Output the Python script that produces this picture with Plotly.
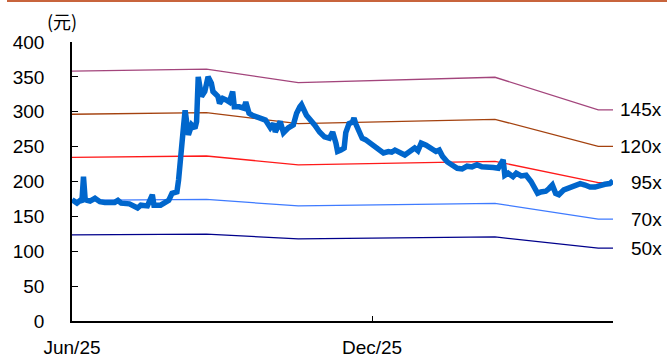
import plotly.graph_objects as go

# Stock price (元)
price_dates = [
    "2025-06-01","2025-06-02","2025-06-04","2025-06-06","2025-06-07","2025-06-08","2025-06-09","2025-06-10",
    "2025-06-12","2025-06-15","2025-06-18","2025-06-21","2025-06-24","2025-06-27","2025-06-29","2025-07-01",
    "2025-07-06","2025-07-09","2025-07-11","2025-07-13","2025-07-17","2025-07-20","2025-07-21","2025-07-25",
    "2025-07-28","2025-07-30","2025-08-01","2025-08-04","2025-08-05","2025-08-06","2025-08-08","2025-08-09",
    "2025-08-11","2025-08-13","2025-08-15","2025-08-16","2025-08-17","2025-08-19","2025-08-20","2025-08-21",
    "2025-08-23","2025-08-25","2025-08-26","2025-08-29","2025-08-30","2025-09-01","2025-09-03","2025-09-05",
    "2025-09-07","2025-09-08","2025-09-11","2025-09-14","2025-09-15","2025-09-17","2025-09-19","2025-09-21",
    "2025-09-24","2025-09-27","2025-09-30","2025-10-02","2025-10-03","2025-10-06","2025-10-08","2025-10-11",
    "2025-10-14","2025-10-16","2025-10-18","2025-10-19","2025-10-22","2025-10-24","2025-10-27","2025-10-30",
    "2025-11-02","2025-11-05","2025-11-07","2025-11-09","2025-11-10","2025-11-12","2025-11-14","2025-11-15",
    "2025-11-17","2025-11-19","2025-11-20","2025-11-21","2025-11-23","2025-11-25","2025-11-27","2025-11-30",
    "2025-12-03","2025-12-05","2025-12-08","2025-12-11","2025-12-13","2025-12-15","2025-12-18","2025-12-21",
    "2025-12-24","2025-12-27","2025-12-29","2025-12-31","2026-01-03","2026-01-06","2026-01-09","2026-01-11",
    "2026-01-13","2026-01-16","2026-01-19","2026-01-22","2026-01-25","2026-01-28","2026-01-31","2026-02-03",
    "2026-02-06","2026-02-10","2026-02-13","2026-02-16","2026-02-19","2026-02-20","2026-02-22","2026-02-25",
    "2026-02-27","2026-03-02","2026-03-05","2026-03-08","2026-03-10","2026-03-12","2026-03-14","2026-03-17",
    "2026-03-19","2026-03-21","2026-03-23","2026-03-25","2026-03-28","2026-03-30","2026-04-01","2026-04-04",
    "2026-04-07","2026-04-10","2026-04-13","2026-04-16","2026-04-19","2026-04-22","2026-04-25","2026-04-27",
]
price_values = [
    174,172,169,173,170,207,175,173,
    172,176,171,170,169,170,173,169,
    168,165,162,166,165,181,166,166,
    169,173,183,185,202,235,278,302,
    267,281,276,286,350,322,327,329,
    350,341,329,322,312,319,317,314,
    329,307,307,305,314,298,295,293,
    291,288,277,283,271,286,270,277,
    281,298,307,310,295,288,281,271,
    264,262,271,255,243,245,248,270,
    283,285,291,283,270,262,260,255,
    250,245,241,243,242,245,241,238,
    243,248,244,255,252,248,243,245,
    236,228,224,219,218,222,221,224,
    221,221,220,219,231,209,212,207,
    212,208,209,200,190,183,185,186,
    190,195,183,181,188,190,193,195,
    197,195,192,192,195,196,197,201,
]

# PE band: forward EPS at each breakpoint
band_dates = ["2025-06-01", "2025-08-22", "2025-10-17", "2026-02-14", "2026-04-18", "2026-04-27"]
band_eps = [2.47, 2.49, 2.357, 2.41, 2.087, 2.087]
multiples = [145, 120, 95, 70, 50]
multiple_labels = ["145x", "120x", "95x", "70x", "50x"]
band_colors = ["#A3457C", "#A4420F", "#FF1A1A", "#3F7BFF", "#00008B"]

y_ticks = [0, 50, 100, 150, 200, 250, 300, 350, 400]
x_tickvals = ["2025-06-01", "2025-12-01"]
x_ticktext = ["Jun/25", "Dec/25"]

FONT = "Liberation Sans, Arial, sans-serif"
FS = 19

fig = go.Figure()
for m, c in zip(multiples, band_colors):
    fig.add_trace(go.Scatter(
        x=band_dates, y=[e * m for e in band_eps], mode="lines",
        line=dict(color=c, width=1.3), showlegend=False, hoverinfo="skip"))

fig.add_trace(go.Scatter(
    x=price_dates, y=price_values, mode="lines",
    line=dict(color="#0066CC", width=5.5), showlegend=False))

L, R, T, B = 72, 54, 42, 37
W, H = 667, 358
pw = W - L - R
ph = H - T - B

for m, lab in zip(multiples, multiple_labels):
    fig.add_annotation(
        x=(664 - L) / pw, xref="paper", y=band_eps[-1] * m, yref="y",
        text=lab, showarrow=False, xanchor="right", yanchor="middle",
        font=dict(family=FONT, size=FS, color="black"))

fig.add_annotation(
    x=(62 - L) / pw, xref="paper", y=(H - B - 21) / ph, yref="paper",
    text="(元)", showarrow=False, xanchor="center", yanchor="middle",
    font=dict(family="Noto Sans CJK SC, Liberation Sans", size=18, color="black"))

fig.add_shape(type="line", xref="paper", yref="paper",
              x0=(7 - L) / pw, x1=(W - L) / pw,
              y0=(H - B - 1) / ph, y1=(H - B - 1) / ph,
              line=dict(color="#C8643C", width=2))

fig.update_layout(
    width=W, height=H,
    margin=dict(l=L, r=R, t=T, b=B, autoexpand=False),
    plot_bgcolor="white", paper_bgcolor="white",
    font=dict(family=FONT, size=FS, color="black"),
    xaxis=dict(
        type="date", range=["2025-06-01", "2026-04-27"],
        tickmode="array", tickvals=x_tickvals, ticktext=x_ticktext,
        ticks="inside", ticklen=5, tickcolor="black", tickwidth=1,
        showline=True, linecolor="black", linewidth=1.5,
        showgrid=False, zeroline=False, ticklabelstandoff=8, automargin=False,
        tickfont=dict(family=FONT, size=FS, color="black")),
    yaxis=dict(
        range=[0, 400], tickmode="array", tickvals=y_ticks,
        ticks="inside", ticklen=6, tickcolor="black", tickwidth=1,
        showline=True, linecolor="black", linewidth=1.5,
        showgrid=False, zeroline=False, ticklabelstandoff=22, automargin=False,
        tickfont=dict(family=FONT, size=FS, color="black")),
)

fig.write_html("out.html")
